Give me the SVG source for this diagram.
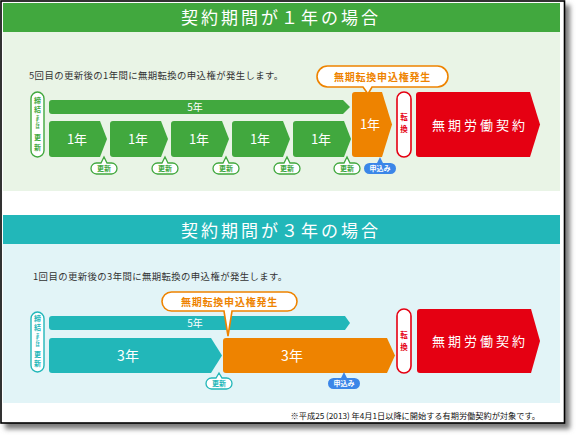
<svg xmlns="http://www.w3.org/2000/svg" xmlns:xlink="http://www.w3.org/1999/xlink" width="577" height="436" viewBox="0 0 577 436">
<style>
text{font-family:"Noto Sans CJK JP","Noto Sans CJK SC",sans-serif;}
.hd{fill:#fff;font-size:17px;letter-spacing:3px;text-anchor:middle;}
.body{fill:#333;font-size:9.4px;letter-spacing:0.4px;}
.wt{fill:#fff;text-anchor:middle;}
.g{fill:#41a83e;}
.t{fill:#22b7b9;}
.o{fill:#ee8300;}
.r{fill:#e50012;}
.callout{fill:#fff;stroke:#ee8300;stroke-width:1.6;}
.callt{fill:#ee8300;font-size:10px;font-weight:bold;letter-spacing:0.8px;text-anchor:middle;}
.pill{fill:#fff;stroke:#e50012;stroke-width:1.6;}
.pillt{fill:#e50012;font-size:7.5px;font-weight:bold;text-anchor:middle;}
.red-t{fill:#fff;font-size:13px;letter-spacing:3px;text-anchor:middle;}
.vp-g{fill:#fff;stroke:#41a83e;stroke-width:1.4;}
.vp-t{fill:#fff;stroke:#22b7b9;stroke-width:1.4;}
.vtg{fill:#41a83e;font-weight:bold;text-anchor:middle;}
.vtt{fill:#22b7b9;font-weight:bold;text-anchor:middle;}
</style>
<defs>
<filter id="sh" x="-5%" y="-5%" width="110%" height="110%"><feGaussianBlur stdDeviation="2.5"/></filter>
<path id="box1" d="M3,0 H51 L58,18 L51,36 H3 Q0,36 0,33 V3 Q0,0 3,0 Z"/>
<g id="kg">
<path d="M-7.5,0 H-3 L0,-6 L3,0 H7.5 A5.5 5.5 0 0 1 7.5,11 H-7.5 A5.5 5.5 0 0 1 -7.5,0 Z" fill="#fff" stroke="#41a83e" stroke-width="1.3"/>
<text x="0" y="8.3" font-size="7" font-weight="bold" fill="#41a83e" text-anchor="middle">更新</text>
</g>
<g id="kt">
<path d="M-7.5,0 H-3 L0,-5 L3,0 H7.5 A5.5 5.5 0 0 1 7.5,11 H-7.5 A5.5 5.5 0 0 1 -7.5,0 Z" fill="#fff" stroke="#22b7b9" stroke-width="1.3"/>
<text x="0" y="8.3" font-size="7" font-weight="bold" fill="#22b7b9" text-anchor="middle">更新</text>
</g>
<g id="mb">
<path d="M-10.5,0 H-3 L0,-6 L3,0 H10.5 A5.5 5.5 0 0 1 10.5,11 H-10.5 A5.5 5.5 0 0 1 -10.5,0 Z" fill="#3b86e8"/>
<text x="0" y="8.3" font-size="7" font-weight="bold" fill="#fff" text-anchor="middle">申込み</text>
</g>
</defs>

<!-- frame -->
<rect x="5" y="5" width="565" height="424" fill="#7a7a7a" filter="url(#sh)"/>
<rect x="1" y="1" width="563.5" height="422" fill="#fff" stroke="#000" stroke-width="1.6"/>

<!-- section 1 -->
<g id="section1">
<rect x="3" y="3" width="557" height="29" class="g"/>
<text x="281" y="24" class="hd">契約期間が１年の場合</text>
<rect x="3" y="32" width="557" height="159" fill="#e9f4e6"/>
<text x="29" y="79" class="body">5回目の更新後の1年間に無期転換の申込権が発生します。</text>
</g>

<g id="s1-sign">
<rect x="31" y="92" width="13" height="65" rx="6.5" class="vp-g"/>
<text x="37.5" y="103" font-size="7" class="vtg">締</text>
<text x="37.5" y="112" font-size="7" class="vtg">結</text>
<text x="37.5" y="119" font-size="4.2" class="vtg">ま</text>
<text x="37.5" y="123.5" font-size="4.2" class="vtg">た</text>
<text x="37.5" y="128" font-size="4.2" class="vtg">は</text>
<text x="37.5" y="140" font-size="7" class="vtg">更</text>
<text x="37.5" y="150" font-size="7" class="vtg">新</text>
</g>

<g id="s1-5years">
<path d="M52,100 H343 L350,107 L343,114 H52 Q49,114 49,111 V103 Q49,100 52,100 Z" class="g"/>
<text x="195" y="111" font-size="10" class="wt">5年</text>
</g>

<g id="s1-y1"><use xlink:href="#box1" x="49" y="121" class="g"/><text x="77" y="144" font-size="13" class="wt">1年</text></g>
<g id="s1-y2"><use xlink:href="#box1" x="110" y="121" class="g"/><text x="138" y="144" font-size="13" class="wt">1年</text></g>
<g id="s1-y3"><use xlink:href="#box1" x="171" y="121" class="g"/><text x="199" y="144" font-size="13" class="wt">1年</text></g>
<g id="s1-y4"><use xlink:href="#box1" x="232" y="121" class="g"/><text x="260" y="144" font-size="13" class="wt">1年</text></g>
<g id="s1-y5"><use xlink:href="#box1" x="293" y="121" class="g"/><text x="321" y="144" font-size="13" class="wt">1年</text></g>

<g id="s1-renew1"><use xlink:href="#kg" x="104" y="163"/></g>
<g id="s1-renew2"><use xlink:href="#kg" x="165" y="163"/></g>
<g id="s1-renew3"><use xlink:href="#kg" x="226" y="163"/></g>
<g id="s1-renew4"><use xlink:href="#kg" x="287" y="163"/></g>
<g id="s1-renew5"><use xlink:href="#kg" x="347" y="163"/></g>

<g id="s1-y6">
<path d="M355,92 H382 L392,124.5 L382,157 H355 Q352,157 352,154 V95 Q352,92 355,92 Z" class="o"/>
<text x="370" y="129" font-size="13" class="wt">1年</text>
</g>
<g id="s1-apply"><use xlink:href="#mb" x="380" y="163"/></g>

<g id="s1-callout">
<path d="M327.5,66 H437.5 A10.5 10.5 0 0 1 437.5,87 H372 L368,94 L363,87 H327.5 A10.5 10.5 0 0 1 327.5,66 Z" class="callout"/>
<text x="382.5" y="80.5" class="callt">無期転換申込権発生</text>
</g>

<g id="s1-convert">
<rect x="397" y="92" width="14" height="65" rx="7" class="pill"/>
<text x="404" y="120" class="pillt">転</text>
<text x="404" y="132" class="pillt">換</text>
</g>

<g id="s1-indefinite">
<path d="M419,92 H530 L540,124.5 L530,157 H419 Q416,157 416,154 V95 Q416,92 419,92 Z" class="r"/>
<text x="480" y="129.5" class="red-t">無期労働契約</text>
</g>

<!-- section 2 -->
<g id="section2">
<rect x="3" y="215" width="557" height="29" class="t"/>
<text x="281" y="237" class="hd">契約期間が３年の場合</text>
<rect x="3" y="244" width="557" height="159" fill="#e2f4f7"/>
<text x="33" y="280" class="body">1回目の更新後の3年間に無期転換の申込権が発生します。</text>
</g>

<g id="s2-sign">
<rect x="31" y="312" width="13" height="60" rx="6.5" class="vp-t"/>
<text x="37.5" y="321" font-size="7" class="vtt">締</text>
<text x="37.5" y="330" font-size="7" class="vtt">結</text>
<text x="37.5" y="337" font-size="4.2" class="vtt">ま</text>
<text x="37.5" y="341.5" font-size="4.2" class="vtt">た</text>
<text x="37.5" y="346" font-size="4.2" class="vtt">は</text>
<text x="37.5" y="357" font-size="7" class="vtt">更</text>
<text x="37.5" y="366" font-size="7" class="vtt">新</text>
</g>

<g id="s2-5years">
<path d="M52,316 H345 L350,323 L345,330 H52 Q49,330 49,327 V319 Q49,316 52,316 Z" class="t"/>
<text x="195" y="327" font-size="10" class="wt">5年</text>
</g>

<g id="s2-y1">
<path d="M52,338 H211 L222,355.5 L211,373 H52 Q49,373 49,370 V341 Q49,338 52,338 Z" class="t"/>
<text x="128" y="361" font-size="14" class="wt">3年</text>
</g>

<g id="s2-y2">
<path d="M226,338 H387 L395,355.5 L387,373 H226 Q223,373 223,370 V341 Q223,338 226,338 Z" class="o"/>
<text x="292" y="361" font-size="14" class="wt">3年</text>
</g>

<g id="s2-renew"><use xlink:href="#kt" x="219" y="378"/></g>
<g id="s2-apply"><use xlink:href="#mb" x="344" y="378"/></g>

<g id="s2-callout">
<path d="M171.5,292 H287.5 A9.5 9.5 0 0 1 287.5,311 H232 L228,336 L224,311 H171.5 A9.5 9.5 0 0 1 171.5,292 Z" class="callout"/>
<text x="229.5" y="305.5" class="callt">無期転換申込権発生</text>
</g>

<g id="s2-convert">
<rect x="397" y="309" width="14" height="64" rx="7" class="pill"/>
<text x="404" y="338" class="pillt">転</text>
<text x="404" y="350" class="pillt">換</text>
</g>

<g id="s2-indefinite">
<path d="M420,309 H531 L540,341 L531,373 H420 Q417,373 417,370 V312 Q417,309 420,309 Z" class="r"/>
<text x="480" y="346" class="red-t">無期労働契約</text>
</g>

<g id="connectors"></g>

<text x="540" y="419" font-size="8.2" fill="#111" text-anchor="end">※平成25 (2013) 年4月1日以降に開始する有期労働契約が対象です。</text>
</svg>
